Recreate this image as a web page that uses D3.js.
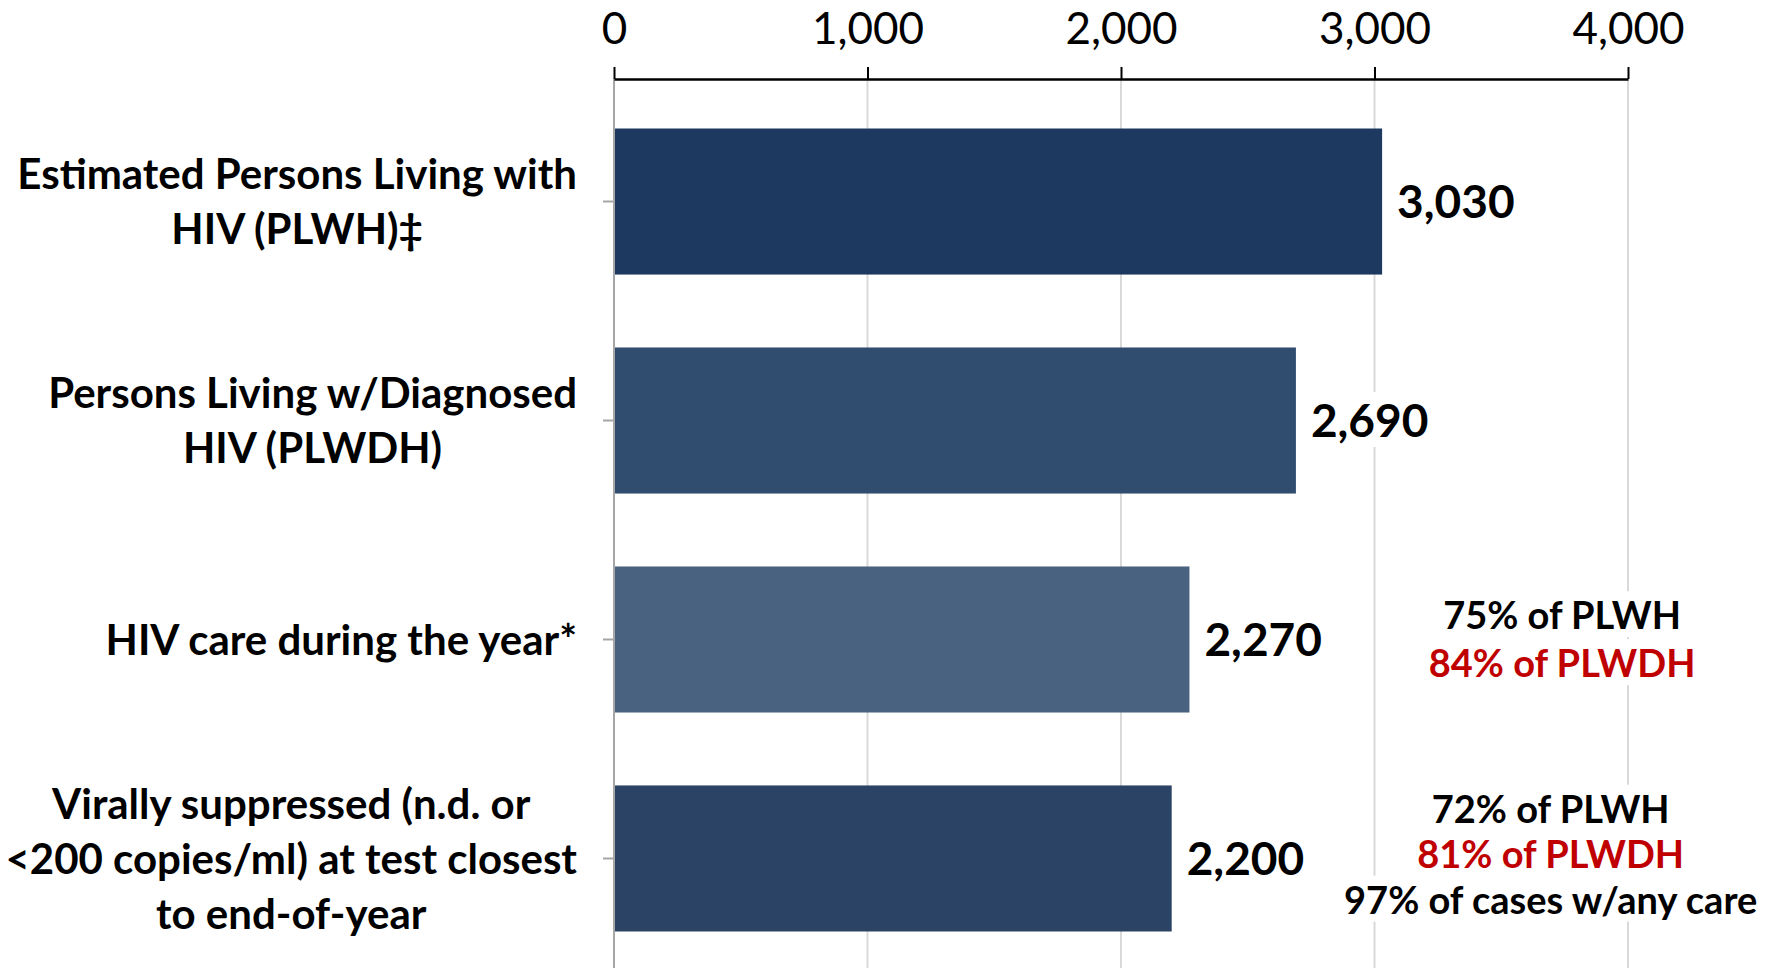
<!DOCTYPE html>
<html>
<head>
<meta charset="utf-8">
<script src="https://cdn.jsdelivr.net/npm/d3@7"></script>
<style>
  html, body { margin: 0; padding: 0; background: #fff; }
  svg { display: block; font-family: Lato, "Open Sans", sans-serif; }
</style>
</head>
<body>
<script>
(function(){
  var width = 1783;
  var height = 968;

  // data
  var categories = [
    ["Estimated Persons Living with", "HIV (PLWH)\u2021"],
    ["Persons Living w/Diagnosed", "HIV (PLWDH)"],
    ["HIV care during the year*"],
    ["Virally suppressed (n.d. or", "<200 copies/ml) at test closest", "to end-of-year"]
  ];
  var values = [3030, 2690, 2270, 2200];
  var barColors = ["#1a375e", "#2e4a6c", "#46607e", "#284162"];
  var tickValues = [0, 1000, 2000, 3000, 4000];
  var notes = [
    [],
    [],
    ["75% of PLWH", "84% of PLWDH"],
    ["72% of PLWH", "81% of PLWDH", "97% of cases w/any care"]
  ];
  var noteAnchor = [0, 0, 3740, 3695];

  var svg = d3.select("body").append("svg")
    .attr("width", width)
    .attr("height", height);

  var axisY = 79;
  var x = d3.scaleLinear().domain([0, 4000]).range([614, 1628]);
  var y = d3.scaleBand()
    .domain(d3.range(categories.length))
    .range([92, 968])
    .paddingInner(0.333)
    .paddingOuter(0.1667);

  // gridlines
  svg.append("g").selectAll("line")
    .data(tickValues.slice(1))
    .enter().append("line")
    .attr("x1", d => x(d)).attr("x2", d => x(d))
    .attr("y1", axisY).attr("y2", height)
    .style("stroke", "#d9d9d9")
    .style("stroke-width", 2);

  // bars
  svg.append("g").selectAll("rect")
    .data(values)
    .enter().append("rect")
    .attr("x", x(0))
    .attr("y", (d, i) => y(i))
    .attr("width", d => x(d) - x(0))
    .attr("height", y.bandwidth())
    .style("fill", (d, i) => barColors[i])
    .style("fill-opacity", 0.99);

  // left axis (ticks only, labels drawn separately)
  var left = svg.append("g")
    .attr("transform", "translate(" + x(0) + ",0)")
    .call(d3.axisLeft(y).tickSize(11).tickSizeOuter(0).tickFormat(""));
  left.select(".domain").remove();
  left.selectAll("line").style("stroke", "#a6a6a6").style("stroke-width", 2);
  svg.append("line")
    .attr("x1", x(0)).attr("x2", x(0))
    .attr("y1", axisY).attr("y2", height)
    .style("stroke", "#a6a6a6").style("stroke-width", 2);

  // top axis
  var top = svg.append("g")
    .attr("transform", "translate(0," + axisY + ")")
    .call(d3.axisTop(x).tickValues(tickValues).tickFormat(d3.format(","))
      .tickSize(12).tickSizeOuter(0).tickPadding(23));
  top.select(".domain").style("stroke", "#000").style("stroke-width", 2.5);
  top.selectAll(".tick line").style("stroke", "#000").style("stroke-width", 2);
  top.selectAll(".tick text")
    .style("font-family", "Lato, sans-serif")
    .style("font-size", "44px")
    .style("fill", "#000");

  // helper: white background behind a text so gridlines break
  function backdrop(t, pad) {
    var b = t.node().getBBox();
    d3.select(t.node().parentNode).insert("rect", function(){ return t.node(); })
      .attr("x", b.x - pad).attr("y", b.y)
      .attr("width", b.width + 2 * pad).attr("height", b.height)
      .style("fill", "#fff");
  }

  // value labels
  values.forEach(function(v, i) {
    var g = svg.append("g");
    var t = g.append("text")
      .attr("x", x(v) + 15)
      .attr("y", y(i) + y.bandwidth() / 2)
      .attr("dy", "0.36em")
      .style("font-size", "46px")
      .style("font-weight", "bold")
      .style("fill", "#000")
      .text(d3.format(",")(v));
    backdrop(t, 4);
  });

  // category labels: centred block, right edge at 577
  var labelRight = 577;
  var lineH = 55;
  categories.forEach(function(lines, i) {
    var g = svg.append("g");
    var cy = y(i) + y.bandwidth() / 2;
    var texts = lines.map(function(s, k) {
      return g.append("text")
        .attr("y", cy + (k - (lines.length - 1) / 2) * lineH)
        .attr("dy", "0.36em")
        .attr("text-anchor", "middle")
        .style("font-size", "42px")
        .style("font-weight", "bold")
        .style("fill", "#000")
        .text(s);
    });
    var maxW = d3.max(texts, t => t.node().getComputedTextLength());
    texts.forEach(t => t.attr("x", labelRight - maxW / 2));
  });

  // annotations
  var noteH = [0, 0, 48, 45.5];
  notes.forEach(function(lines, i) {
    if (!lines.length) return;
    var cy = y(i) + y.bandwidth() / 2 - (lines.length > 2 ? 4 : 0);
    lines.forEach(function(s, k) {
      var g = svg.append("g");
      var t = g.append("text")
        .attr("x", x(noteAnchor[i]))
        .attr("y", cy + (k - (lines.length - 1) / 2) * noteH[i])
        .attr("dy", "0.36em")
        .attr("text-anchor", "middle")
        .style("font-size", "38px")
        .style("font-weight", "bold")
        .style("fill", s.indexOf("PLWDH") >= 0 ? "#c00000" : "#000")
        .text(s);
      backdrop(t, 2);
    });
  });
})();
</script>
</body>
</html>
